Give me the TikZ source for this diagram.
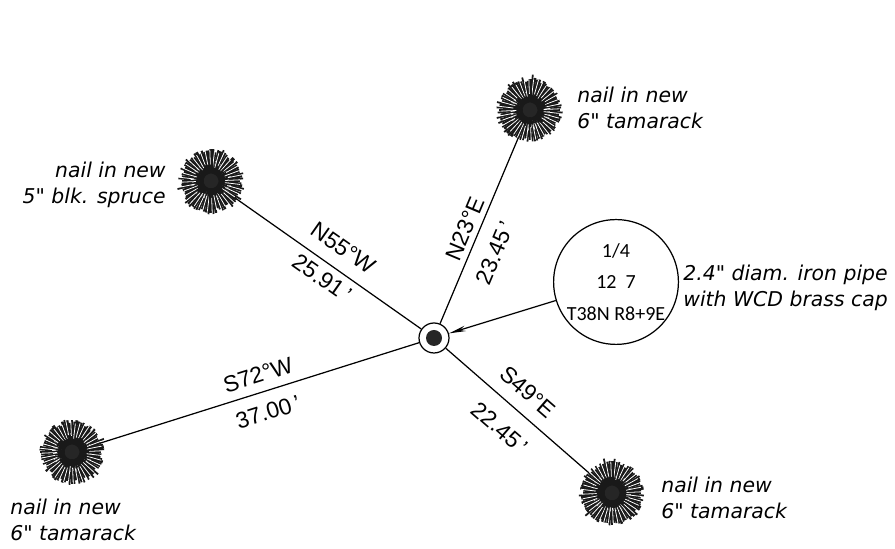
\documentclass[tikz,border=0pt]{standalone}
\usepackage{fontspec}
\usetikzlibrary{arrows.meta}
\setmainfont{Liberation Sans}
\newfontfamily\notefont{DejaVu Sans}
\newfontfamily\capfont{Carlito}
\tikzset{
  treecore/.style={circle,fill=black!85,minimum size=0.42cm,inner sep=0pt},
  treenote/.style={font=\notefont\itshape\fontsize{11.6}{14.8}\selectfont,align=left,inner sep=0pt},
  linenote/.style={font=\fontsize{13}{14}\selectfont,inner sep=0pt},
}
\newcommand{\treespokes}[1]{%
  \foreach \a in {0,9,...,351} {
    \pgfmathsetmacro{\r}{0.42+0.08*rnd}
    \pgfmathsetmacro{\w}{1.1+0.8*rnd}
    \draw [black!90,line width=\w pt] (#1) ++(\a:0.15) -- ++(\a:\r);
    \pgfmathsetmacro{\s}{0.34+0.08*rnd}
    \pgfmathsetmacro{\r}{0.2+0.1*rnd}
    \draw [black!90,line width=1pt] (#1) ++(\a+4.5:\s) -- ++(\a+4.5:\r);
    \pgfmathsetmacro{\s}{0.27+0.08*rnd}
    \draw [white,line width=0.45pt] (#1) ++(\a+2.2:\s) -- ++(\a+2.2:0.3);
  }
}
\begin{document}
\begin{tikzpicture}
  \pgfmathsetseed{38}
  \useasboundingbox (0,0) rectangle (17.9,10.98);
  \node [treecore] (treeN) at (10.6,8.78) {};
  \node [treecore] (treeW) at (4.22,7.36) {};
  \node [treecore] (treeS) at (1.44,1.94) {};
  \node [treecore] (treeE) at (12.24,1.12) {};
  \node [circle,draw,line width=0.7pt,minimum size=0.6cm,inner sep=0pt] (pin) at (8.68,4.22) {};
  \node [circle,fill=black!85,minimum size=0.32cm,inner sep=0pt] (pincore) at (pin) {};
  \node [circle,draw,line width=0.7pt,minimum size=2.36cm,inner sep=0pt,align=center,
         font=\capfont\fontsize{11.4}{18}\selectfont] (cap) at (12.32,5.34) {1/4\\12\ \ 7\\T38N R8+9E};
  % lines out from the pipe
  \draw [line width=0.7pt] (treeN) -- (pin);
  \draw [line width=0.7pt] (treeW) -- (pin);
  \draw [line width=0.7pt] (treeS) -- (pin);
  \draw [line width=0.7pt] (treeE) -- (pin);
  \draw [line width=0.7pt,-{Stealth[length=0.34cm,width=0.11cm]}] (cap) -- (pin);
  \treespokes{treeN} \treespokes{treeW} \treespokes{treeS} \treespokes{treeE}
  % bearings and distances
  \node [linenote,rotate=-35.1] (bearW) at (6.86,6.02) {N55°W};
  \node [linenote,rotate=-35.1] (distW) at (6.44,5.42) {25.91\,'};
  \node [linenote,rotate=17.5] (bearS) at (5.16,3.48) {S72°W};
  \node [linenote,rotate=17.5] (distS) at (5.36,2.74) {37.00\,'};
  \node [linenote,rotate=67.2] (bearN) at (9.3,6.4) {N23°E};
  \node [linenote,rotate=67.2] (distN) at (9.9,5.92) {23.45\,'};
  \node [linenote,rotate=-41] (bearE) at (10.56,3.14) {S49°E};
  \node [linenote,rotate=-41] (distE) at (10,2.42) {22.45\,'};
  % tree and pipe notes
  \node [treenote,anchor=west] (noteN) at (11.54,8.82) {nail in new\\6" tamarack};
  \node [treenote,anchor=east,align=right] (noteW) at (3.32,7.28) {nail in new\\5" blk. spruce};
  \node [treenote,anchor=west] (noteS) at (0.2,0.58) {nail in new\\6" tamarack};
  \node [treenote,anchor=west] (noteE) at (13.22,1.02) {nail in new\\6" tamarack};
  \node [treenote,anchor=west] (noteC) at (13.66,5.22) {2.4" diam. iron pipe\\with WCD brass cap};
\end{tikzpicture}
\end{document}
